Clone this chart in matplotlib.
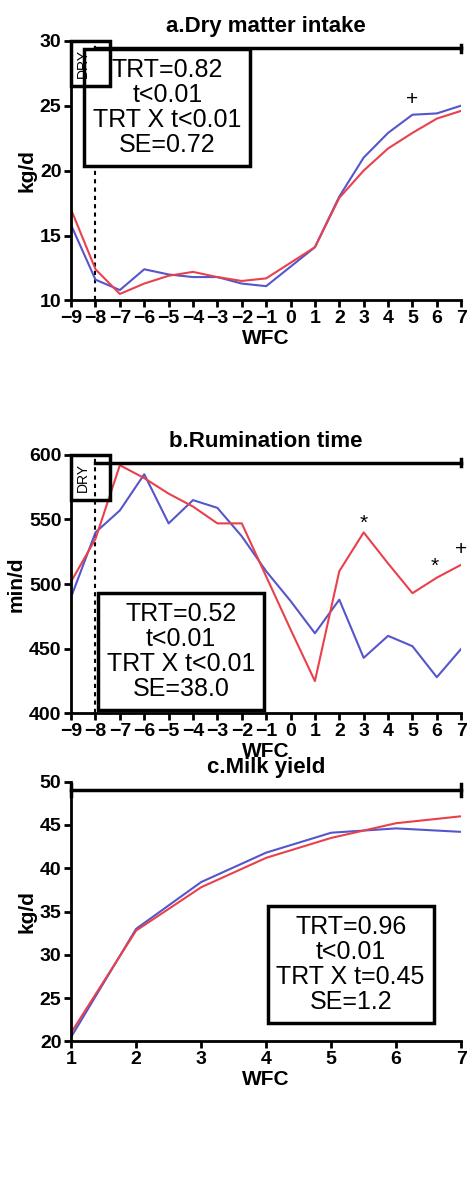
import matplotlib.pyplot as plt
from matplotlib.patches import Rectangle

plt.rcParams['font.family'] = ['Liberation Sans', 'DejaVu Sans']

wfc_pre = list(range(-9, 8))
dmi_blue = [15.8, 11.6, 10.8, 12.4, 12.0, 11.8, 11.8, 11.3, 11.1, 12.6, 14.1, 18.0, 21.0, 22.9, 24.3, 24.4, 25.0]
dmi_red = [17.0, 12.4, 10.5, 11.3, 11.9, 12.2, 11.8, 11.5, 11.7, 12.9, 14.1, 17.9, 20.0, 21.7, 22.9, 24.0, 24.6]

rum_blue = [490, 540, 557, 585, 547, 565, 559, 537, 510, 487, 462, 488, 443, 460, 452, 428, 450]
rum_red = [502, 535, 592, 582, 570, 560, 547, 547, 506, 465, 425, 510, 540, 516, 493, 505, 515]

wfc_post = list(range(1, 8))
milk_blue = [20.5, 33.0, 38.4, 41.8, 44.1, 44.6, 44.2]
milk_red = [21.0, 32.8, 37.8, 41.2, 43.5, 45.2, 46.0]

BLUE = "#5555cc"
RED = "#e8414b"

fig = plt.figure(figsize=(4.74, 11.97), dpi=100)
L, W = 0.15, 0.823
axes = [fig.add_axes([L, 0.749, W, 0.217]),
        fig.add_axes([L, 0.404, W, 0.216]),
        fig.add_axes([L, 0.130, W, 0.217])]


def style(ax, title, ylabel):
    for s in ["top", "right"]:
        ax.spines[s].set_visible(False)
    for s in ["left", "bottom"]:
        ax.spines[s].set_linewidth(2)
    ax.tick_params(width=2, length=5, labelsize=14, pad=2)
    for lab in ax.get_xticklabels() + ax.get_yticklabels():
        lab.set_fontweight("bold")
    ax.set_title(title, fontsize=16, fontweight="bold", pad=6)
    ax.set_ylabel(ylabel, fontsize=15, fontweight="bold", labelpad=2)
    ax.set_xlabel("WFC", fontsize=15, fontweight="bold", labelpad=1)


def stats(ax, x, y, txt):
    ax.text(x, y, txt, ha="center", va="center", fontsize=18, linespacing=1.05,
            bbox=dict(boxstyle="square,pad=0.35", fc="white", ec="black", lw=2.5), zorder=5)


def dry(ax, ylo, yhi, ytop):
    ax.axvline(-8, color="black", ls=(0, (2, 2)), lw=1.5, zorder=1)
    ax.add_patch(Rectangle((-9, ylo), 1.6, yhi - ylo, fill=False, ec="black", lw=2.5,
                           clip_on=False, zorder=6))
    ax.text(-8.5, (ylo + yhi) / 2, "DRY", rotation=90, ha="center", va="center", fontsize=10, zorder=7)
    ax.plot([-8, 7], [ytop, ytop], color="black", lw=2.5, clip_on=False, zorder=6)
    ax.plot([7, 7], [ytop - (yhi - ylo) * 0.08, ytop + (yhi - ylo) * 0.08], color="black", lw=2.5,
            clip_on=False, zorder=6)


# a
ax = axes[0]
ax.plot(wfc_pre, dmi_blue, color=BLUE, lw=1.5)
ax.plot(wfc_pre, dmi_red, color=RED, lw=1.5)
ax.set_xlim(-9, 7)
ax.set_ylim(10, 30)
ax.set_xticks(wfc_pre)
ax.set_yticks([10, 15, 20, 25, 30])
dry(ax, 26.5, 30, 29.4)
stats(ax, -5.05, 24.85, "TRT=0.82\nt<0.01\nTRT X t<0.01\nSE=0.72")
ax.text(5, 25.5, "+", ha="center", va="center", fontsize=15)
style(ax, "a.Dry matter intake", "kg/d")

# b
ax = axes[1]
ax.plot(wfc_pre, rum_blue, color=BLUE, lw=1.5)
ax.plot(wfc_pre, rum_red, color=RED, lw=1.5)
ax.set_xlim(-9, 7)
ax.set_ylim(400, 600)
ax.set_xticks(wfc_pre)
ax.set_yticks([400, 450, 500, 550, 600])
dry(ax, 565, 600, 594)
stats(ax, -4.5, 448, "TRT=0.52\nt<0.01\nTRT X t<0.01\nSE=38.0")
ax.text(3, 547, "*", ha="center", va="center", fontsize=15)
ax.text(5.9, 514, "*", ha="center", va="center", fontsize=15)
ax.text(7, 527, "+", ha="center", va="center", fontsize=15, clip_on=False)
style(ax, "b.Rumination time", "min/d")

# c
ax = axes[2]
ax.plot(wfc_post, milk_blue, color=BLUE, lw=1.5)
ax.plot(wfc_post, milk_red, color=RED, lw=1.5)
ax.set_xlim(1, 7)
ax.set_ylim(20, 50)
ax.set_xticks(wfc_post)
ax.set_yticks([20, 25, 30, 35, 40, 45, 50])
ax.plot([1, 7], [49, 49], color="black", lw=2.5, clip_on=False)
for xe in [1, 7]:
    ax.plot([xe, xe], [48.3, 49.7], color="black", lw=2.5, clip_on=False)
stats(ax, 5.3, 28.9, "TRT=0.96\nt<0.01\nTRT X t=0.45\nSE=1.2")
style(ax, "c.Milk yield", "kg/d")

fig.savefig("out.png", dpi=100)
